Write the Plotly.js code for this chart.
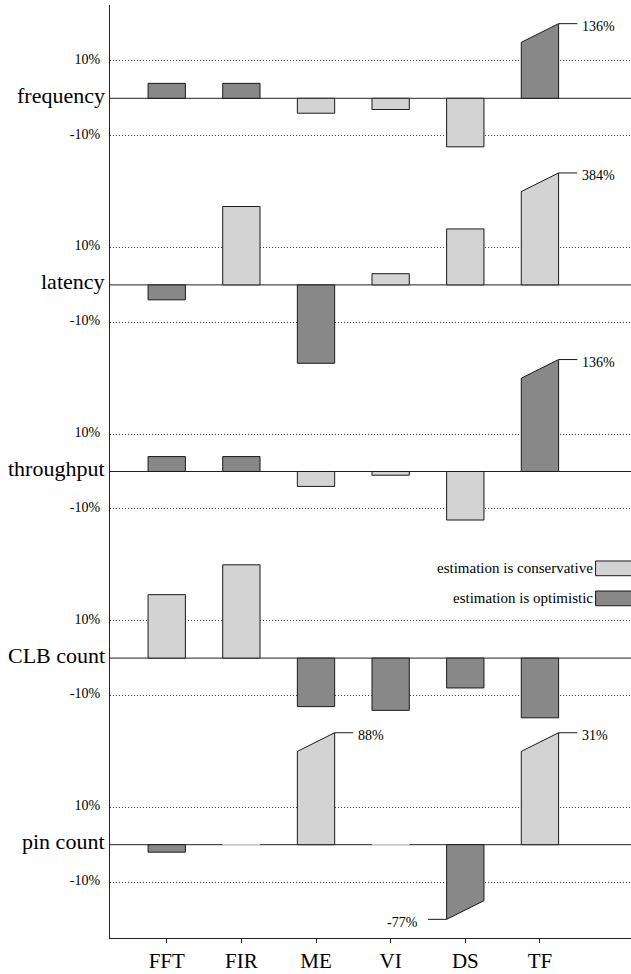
<!DOCTYPE html>
<html>
<head>
<meta charset="utf-8">
<script src="https://cdn.plot.ly/plotly-3.0.1.min.js"></script>
<style>
html, body { margin: 0; padding: 0; background: #fff; }
#chart { width: 631px; height: 974px; }
</style>
</head>
<body>
<div id="chart"></div>
<script>
// ---- data ----
const categories = ['FFT', 'FIR', 'ME', 'VI', 'DS', 'TF'];
const metrics = ['frequency', 'latency', 'throughput', 'CLB count', 'pin count'];
const frequency  = [4, 4, -4, -3, -13, 136];
const latency    = [-4, 21, -21, 3, 15, 384];
const throughput = [4, 4, -4, -1, -13, 136];
const clbCount   = [17, 25, -13, -14, -8, -16];
const pinCount   = [-2, 0, 88, 0, -77, 31];
// sign convention: a positive error means the estimate is conservative?
const positiveIsConservative = [false, true, false, true, true];
// bars drawn truncated (broken): metric index, category index, shown heights at left/right edge
const brokenMetric = [0, 1, 2, 4, 4, 4];
const brokenCat    = [5, 5, 5, 2, 4, 5];
const brokenLeft   = [15, 25, 25, 25, -20, 25];
const brokenRight  = [20, 30, 30, 30, -15, 30];
const tickValues = [10, -10];
const tickLabels = ['10%', '-10%'];
const legendLabels = ['estimation is conservative', 'estimation is optimistic'];

// ---- style ----
const LIGHT = '#d3d3d3', DARK = '#888888', EDGE = '#1a1a1a';
const FONT = 'Liberation Serif, Times New Roman, serif';
const SPACING = 50, HALF_W = 0.25, LEADER = 0.25;
const series = [frequency, latency, throughput, clbCount, pinCount];

const traces = [];
const annotations = [];
const shapes = [];
const yTickVals = [], yTickText = [];

series.forEach((vals, m) => {
  const off = -SPACING * m;
  const isBroken = (c) => brokenMetric.some((bm, k) => bm === m && brokenCat[k] === c);
  const colorOf = (v) => ((v >= 0) === positiveIsConservative[m]) ? LIGHT : DARK;
  const xs = categories.map((_, i) => i);
  traces.push({
    type: 'bar', x: xs,
    y: vals.map((v, c) => isBroken(c) ? null : v),
    base: off, width: 2 * HALF_W,
    marker: {
      color: vals.map(colorOf),
      line: { color: vals.map(v => v === 0 ? LIGHT : EDGE), width: 1 }
    },
    hoverinfo: 'skip', showlegend: false
  });
  tickValues.forEach((t, k) => { yTickVals.push(off + t); yTickText.push(tickLabels[k]); });
  shapes.push({ type: 'line', xref: 'paper', x0: 0, x1: 1, yref: 'y', y0: off, y1: off,
    line: { color: '#222', width: 1 }, layer: 'between' });
  annotations.push({ xref: 'paper', x: 0, yref: 'y', y: off, xanchor: 'right', yanchor: 'middle',
    xshift: -3, yshift: 3, text: metrics[m], showarrow: false,
    font: { family: FONT, size: 22, color: '#000' } });
});

brokenMetric.forEach((m, k) => {
  const c = brokenCat[k], off = -SPACING * m;
  const v = series[m][c];
  const fill = ((v >= 0) === positiveIsConservative[m]) ? LIGHT : DARK;
  const L = off + brokenLeft[k], R = off + brokenRight[k];
  traces.push({
    type: 'scatter', mode: 'lines', fill: 'toself', fillcolor: fill,
    x: [c - HALF_W, c - HALF_W, c + HALF_W, c + HALF_W, c - HALF_W],
    y: [off, L, R, off, off],
    line: { color: EDGE, width: 1 }, hoverinfo: 'skip', showlegend: false
  });
  if (v >= 0) {
    traces.push({ type: 'scatter', mode: 'lines', x: [c + HALF_W, c + HALF_W + LEADER], y: [R, R],
      line: { color: EDGE, width: 1 }, hoverinfo: 'skip', showlegend: false });
    annotations.push({ xref: 'x', x: c + HALF_W + LEADER, yref: 'y', y: R, xanchor: 'left', yanchor: 'middle',
      xshift: 3, yshift: -3, text: v + '%', showarrow: false, font: { family: FONT, size: 14, color: '#000' } });
  } else {
    traces.push({ type: 'scatter', mode: 'lines', x: [c - HALF_W, c - HALF_W - LEADER], y: [L, L],
      line: { color: EDGE, width: 1 }, hoverinfo: 'skip', showlegend: false });
    annotations.push({ xref: 'x', x: c - HALF_W - LEADER, yref: 'y', y: L, xanchor: 'right', yanchor: 'middle',
      xshift: -8, yshift: -3, text: v + '%', showarrow: false, font: { family: FONT, size: 14, color: '#000' } });
  }
});

// legend (text left of swatch)
const legendColors = [LIGHT, DARK];
const legendY = [0.3962, 0.3640];
legendLabels.forEach((lab, i) => {
  shapes.push({ type: 'rect', xref: 'paper', yref: 'paper', x0: 0.932, x1: 1.06,
    y0: legendY[i] - 0.0079, y1: legendY[i] + 0.0079,
    fillcolor: legendColors[i], line: { color: EDGE, width: 1 }, layer: 'above' });
  annotations.push({ xref: 'paper', yref: 'paper', x: 0.932, y: legendY[i], xanchor: 'right', yanchor: 'middle',
    xshift: -1, text: lab, showarrow: false, font: { family: FONT, size: 15, color: '#000' } });
});

const layout = {
  width: 631, height: 974,
  margin: { l: 110, r: 0, t: 5, b: 36 },
  paper_bgcolor: '#fff', plot_bgcolor: '#fff',
  showlegend: false, hovermode: false, barmode: 'overlay',
  xaxis: {
    range: [-0.76, 6.22], tickvals: categories.map((_, i) => i), ticktext: categories,
    showgrid: false, zeroline: false, showline: true, linecolor: '#222', linewidth: 1,
    ticks: 'outside', ticklen: 4, tickcolor: '#222',
    tickfont: { family: FONT, size: 21, color: '#000' }, fixedrange: true
  },
  yaxis: {
    range: [-225, 25], tickvals: yTickVals, ticktext: yTickText,
    showgrid: true, gridcolor: '#444', gridwidth: 1, griddash: '1px,2px',
    zeroline: false, showline: true, linecolor: '#222', linewidth: 1,
    ticks: '', ticklabelstandoff: 6, ticklabelshift: -2,
    tickfont: { family: FONT, size: 14, color: '#000' }, fixedrange: true
  },
  shapes: shapes,
  annotations: annotations
};

Plotly.newPlot('chart', traces, layout, { staticPlot: true, displayModeBar: false });
</script>
</body>
</html>
